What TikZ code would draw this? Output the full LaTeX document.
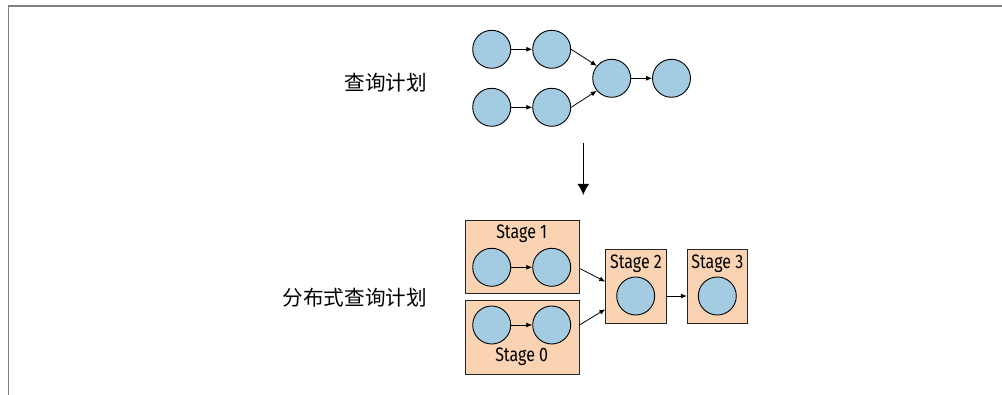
\documentclass[tikz,border=0pt]{standalone}
\usepackage{fontspec}
\setmainfont{Fira Sans}
\newfontfamily\stagefont[FakeStretch=0.82]{Fira Sans}
\newfontfamily\cjk{Noto Sans CJK SC}
\usetikzlibrary{arrows.meta}
\definecolor{nodeblue}{HTML}{A3CBE2}
\definecolor{peach}{HTML}{F9D3B2}
\definecolor{framegray}{HTML}{808080}
\tikzset{
  dot/.style={circle, draw=black, line width=0.9pt, fill=nodeblue, minimum size=38pt, inner sep=0pt},
  stagebox/.style={draw=black!85, line width=0.9pt, fill=peach},
  stagelabel/.style={font=\stagefont\fontsize{19.5}{19.5}\selectfont, inner sep=0pt},
  cnlabel/.style={font=\cjk\fontsize{20.6}{20.6}\selectfont, inner sep=0pt, anchor=east},
  link/.style={-{Latex[length=6pt,width=5pt]}, line width=0.8pt},
  bigarrow/.style={-{Latex[length=11pt,width=12pt]}, line width=1.6pt}
}
\begin{document}
\begin{tikzpicture}[x=1pt,y=-1pt]
\useasboundingbox (0,0) rectangle (1002,395);
% frame
\draw[framegray, line width=1.5pt] (8.5,395) -- (8.5,6) -- (1002,6);
% labels
\node[cnlabel] (lq) at (427,82.5) {查询计划};
\node[cnlabel] (ld) at (427,297.5) {分布式查询计划};
% top plan
\node[dot] (a1) at (491.7,49.3) {};
\node[dot] (a2) at (551.7,49.3) {};
\node[dot] (b1) at (491.7,107.3) {};
\node[dot] (b2) at (551.7,107.3) {};
\node[dot] (m) at (611.7,78.3) {};
\node[dot] (e) at (671.5,78.3) {};
\draw[link] (a1) -- (a2);
\draw[link] (b1) -- (b2);
\draw[link] (a2.east) -- (m.140);
\draw[link] (b2.east) -- (m.220);
\draw[link] (m) -- (e);
% down arrow
\coordinate (dtop) at (583.3,143);
\coordinate (dbot) at (583.3,195);
\draw[bigarrow] (dtop) -- (dbot);
% stage boxes
\node[stagebox, minimum width=114pt, minimum height=73pt, inner sep=0pt] (s1) at (522,256.5) {};
\node[stagebox, minimum width=114pt, minimum height=74pt, inner sep=0pt] (s0) at (522,337) {};
\node[stagebox, minimum width=60.5pt, minimum height=74pt, inner sep=0pt] (s2) at (636,286.3) {};
\node[stagebox, minimum width=60pt, minimum height=74pt, inner sep=0pt] (s3) at (717.3,286.3) {};
\node[stagelabel] (t1) at (521.7,233.5) {Stage 1};
\node[stagelabel] (t0) at (521.7,356.5) {Stage 0};
\node[stagelabel] (t2) at (636,263.5) {Stage 2};
\node[stagelabel] (t3) at (717.3,263.5) {Stage 3};
\node[dot] (c1) at (491.7,267.3) {};
\node[dot] (c2) at (551.7,267.3) {};
\node[dot] (d1) at (491.7,325) {};
\node[dot] (d2) at (551.7,325) {};
\node[dot] (f) at (635.7,296) {};
\node[dot] (g) at (717.3,296) {};
\draw[link] (c1) -- (c2);
\draw[link] (d1) -- (d2);
\draw[link] (s1.east |- 0,268.3) -- (s2.west |- 0,281.7);
\draw[link] (s0.east |- 0,325) -- (s2.west |- 0,309.3);
\draw[link] (s2.east |- f) -- (s3.west |- g);
\end{tikzpicture}
\end{document}
